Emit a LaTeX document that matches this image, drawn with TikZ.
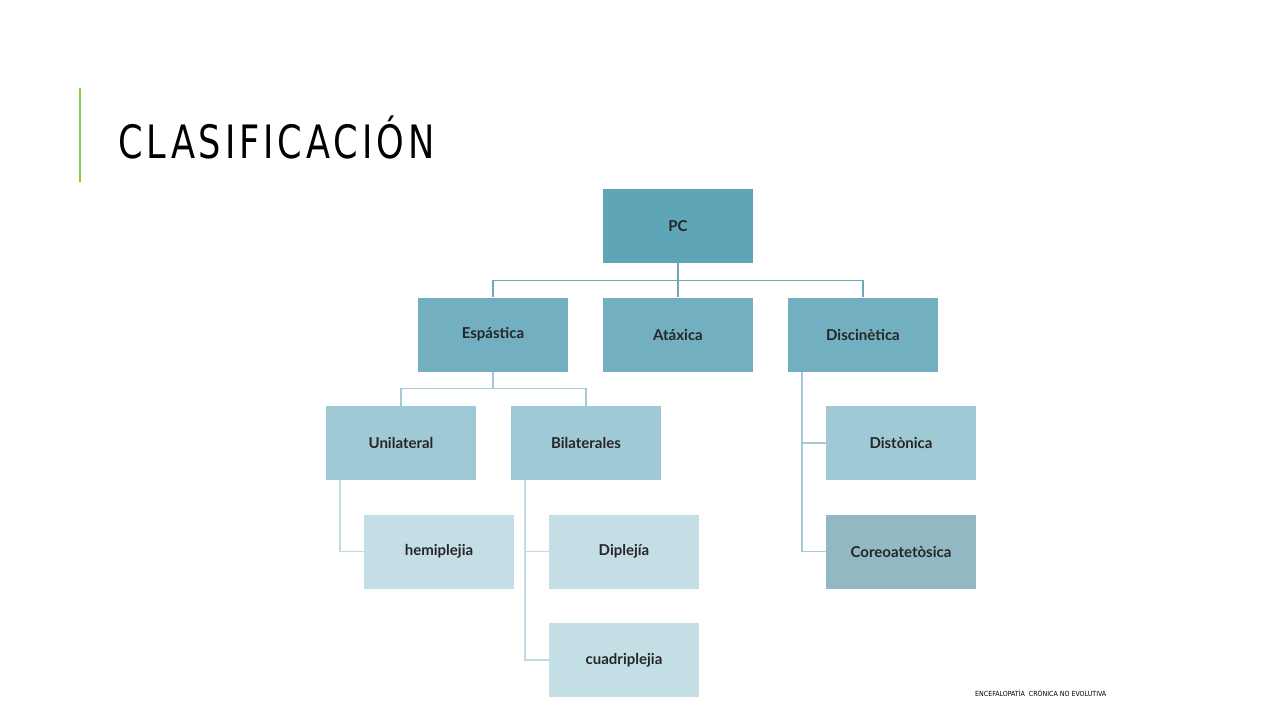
\documentclass[tikz,border=0pt]{standalone}
\usepackage{fontspec}
\setmainfont{Lato}
\newfontfamily\titlefont{DejaVu Sans Condensed}
\usetikzlibrary{positioning}
\definecolor{cA}{HTML}{5FA5B8}
\definecolor{cB}{HTML}{72AFC0}
\definecolor{cC}{HTML}{9FC9D4}
\definecolor{cD}{HTML}{C3DFE5}
\definecolor{lnA}{HTML}{6FA7B7}
\definecolor{lnB}{HTML}{A6CAD5}
\definecolor{lnC}{HTML}{C0DCE3}
\tikzset{
 bx/.style={minimum width=150pt,minimum height=74pt,inner sep=0,font=\bfseries\fontsize{15}{18}\selectfont,text=black!85},
 ln/.style={line width=1.3pt}
}
\begin{document}
\begin{tikzpicture}[x=1pt,y=-1pt]
\useasboundingbox (0,0) rectangle (1280,720);
\fill[white] (0,0) rectangle (1280,720);
\fill[green!50!olive!70] (79,88) rectangle (81,182);
\node[anchor=west,inner sep=0] (title) at (118,137) {\titlefont\fontsize{46}{50}\selectfont\addfontfeature{LetterSpace=10}\scalebox{0.85}[1]{CLASIFICACIÓN}};
\node[bx,fill=cA] (pc) at (678,226) {PC};
\node[bx,fill=cB] (esp) at (493,334.5) {Espástica};
\node[bx,fill=cB] (ata) at (678,334.5) {Atáxica};
\node[bx,fill=cB] (dis) at (863,334.5) {Discinètica};
\node[bx,fill=cC] (uni) at (401,443) {Unilateral};
\node[bx,fill=cC] (bil) at (586,443) {Bilaterales};
\node[bx,fill=cD] (hem) at (439,551.5) {hemiplejia};
\node[bx,fill=cD] (dip) at (624,551.5) {Diplejía};
\node[bx,fill=cD] (cua) at (624,660) {cuadriplejia};
\node[bx,fill=cC] (dst) at (901,443) {Distònica};
\node[bx,fill=cC!92!black] (cor) at (901,551.5) {Coreoatetòsica};
\draw[ln,lnA] (pc.south) -- ++(0,17) coordinate (j1);
\draw[ln,lnA] (esp.north) |- (j1) -| (dis.north);
\draw[ln,lnA] (ata.north) -- (j1);
\draw[ln,lnB] (esp.south) -- ++(0,17) coordinate (j2);
\draw[ln,lnB] (uni.north) |- (j2) -| (bil.north);
\draw[ln,lnC] ([xshift=-61pt]uni.south) |- (hem.west);
\draw[ln,lnC] ([xshift=-61pt]bil.south) |- (dip.west);
\draw[ln,lnC] ([xshift=-61pt]bil.south) |- (cua.west);
\draw[ln,lnB] ([xshift=-61pt]dis.south) |- (dst.west);
\draw[ln,lnB] ([xshift=-61pt]dis.south) |- (cor.west);
\node[anchor=west,inner sep=0] (foot) at (975,693) {\titlefont\fontsize{7}{8}\selectfont ENCEFALOPATÍA\ \ CRÓNICA NO EVOLUTIVA};
\end{tikzpicture}
\end{document}
